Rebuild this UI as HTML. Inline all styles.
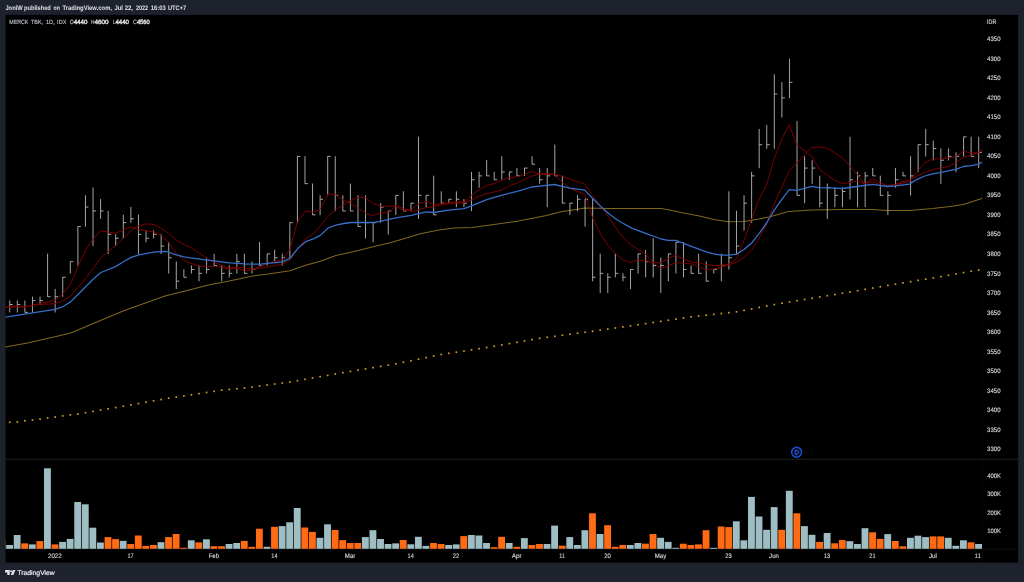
<!DOCTYPE html>
<html><head><meta charset="utf-8"><title>MERCK TBK chart</title>
<style>html,body{margin:0;padding:0;background:#1e222d;overflow:hidden}body{width:1024px;height:582px;font-family:"Liberation Sans",sans-serif}svg{display:block}text{font-family:"Liberation Sans",sans-serif;text-rendering:geometricPrecision}</style>
</head><body>
<svg width="1024" height="582" viewBox="0 0 1024 582">
<rect x="0" y="0" width="1024" height="582" fill="#1e222d"/>
<rect x="4.9" y="14.200000000000001" width="1013.9000000000001" height="549.1000000000001" fill="#232733"/>
<rect x="5.5" y="14.8" width="1012.7" height="547.9000000000001" fill="#000000"/>
<rect x="5.5" y="458.8" width="1012.7" height="1" fill="#1c1f28"/>
<rect x="5.5" y="548.7" width="1012.7" height="0.8" fill="#12141a"/>
<rect x="981.7" y="14.8" width="1" height="547.9000000000001" fill="#0a0b0d"/>
<defs><filter id="tb" x="-5%" y="-50%" width="110%" height="200%"><feGaussianBlur stdDeviation="1.8"/></filter></defs>
<defs><clipPath id="cp"><rect x="5.5" y="14.8" width="976.7" height="534.3000000000001"/></clipPath></defs>
<g clip-path="url(#cp)">
<rect x="5.5" y="541.30" width="0.5" height="7.5" fill="#ff6a14"/>
<rect x="6.15" y="545.00" width="6.85" height="3.80" fill="#9fbec3"/>
<rect x="13.72" y="535.00" width="6.85" height="13.80" fill="#9fbec3"/>
<rect x="21.29" y="543.40" width="6.85" height="5.40" fill="#ff6a14"/>
<rect x="28.86" y="544.40" width="6.85" height="4.40" fill="#9fbec3"/>
<rect x="36.43" y="541.10" width="6.85" height="7.70" fill="#ff6a14"/>
<rect x="44.00" y="468.30" width="6.85" height="80.50" fill="#9fbec3"/>
<rect x="51.57" y="544.40" width="6.85" height="4.40" fill="#ff6a14"/>
<rect x="59.14" y="541.90" width="6.85" height="6.90" fill="#9fbec3"/>
<rect x="66.71" y="538.90" width="6.85" height="9.90" fill="#9fbec3"/>
<rect x="74.28" y="502.00" width="6.85" height="46.80" fill="#9fbec3"/>
<rect x="81.85" y="504.30" width="6.85" height="44.50" fill="#9fbec3"/>
<rect x="89.42" y="527.70" width="6.85" height="21.10" fill="#9fbec3"/>
<rect x="96.99" y="542.50" width="6.85" height="6.30" fill="#9fbec3"/>
<rect x="104.56" y="537.10" width="6.85" height="11.70" fill="#ff6a14"/>
<rect x="112.13" y="539.10" width="6.85" height="9.70" fill="#ff6a14"/>
<rect x="119.70" y="540.90" width="6.85" height="7.90" fill="#9fbec3"/>
<rect x="127.27" y="544.00" width="6.85" height="4.80" fill="#ff6a14"/>
<rect x="134.84" y="535.50" width="6.85" height="13.30" fill="#ff6a14"/>
<rect x="142.41" y="545.90" width="6.85" height="2.90" fill="#ff6a14"/>
<rect x="149.98" y="545.00" width="6.85" height="3.80" fill="#ff6a14"/>
<rect x="157.55" y="542.20" width="6.85" height="6.60" fill="#9fbec3"/>
<rect x="165.12" y="537.10" width="6.85" height="11.70" fill="#ff6a14"/>
<rect x="172.69" y="534.00" width="6.85" height="14.80" fill="#ff6a14"/>
<rect x="180.26" y="547.80" width="6.85" height="1.00" fill="#ff6a14"/>
<rect x="187.83" y="540.30" width="6.85" height="8.50" fill="#9fbec3"/>
<rect x="195.40" y="542.40" width="6.85" height="6.40" fill="#ff6a14"/>
<rect x="202.97" y="539.30" width="6.85" height="9.50" fill="#9fbec3"/>
<rect x="210.54" y="546.20" width="6.85" height="2.60" fill="#ff6a14"/>
<rect x="218.11" y="546.20" width="6.85" height="2.60" fill="#ff6a14"/>
<rect x="225.68" y="544.00" width="6.85" height="4.80" fill="#9fbec3"/>
<rect x="233.25" y="543.00" width="6.85" height="5.80" fill="#9fbec3"/>
<rect x="240.82" y="540.90" width="6.85" height="7.90" fill="#ff6a14"/>
<rect x="248.39" y="546.80" width="6.85" height="2.00" fill="#ff6a14"/>
<rect x="255.96" y="528.70" width="6.85" height="20.10" fill="#ff6a14"/>
<rect x="263.53" y="546.80" width="6.85" height="2.00" fill="#9fbec3"/>
<rect x="271.10" y="526.80" width="6.85" height="22.00" fill="#ff6a14"/>
<rect x="278.67" y="526.10" width="6.85" height="22.70" fill="#9fbec3"/>
<rect x="286.24" y="522.30" width="6.85" height="26.50" fill="#9fbec3"/>
<rect x="293.81" y="508.00" width="6.85" height="40.80" fill="#9fbec3"/>
<rect x="301.38" y="527.50" width="6.85" height="21.30" fill="#ff6a14"/>
<rect x="308.95" y="531.90" width="6.85" height="16.90" fill="#ff6a14"/>
<rect x="316.52" y="537.80" width="6.85" height="11.00" fill="#9fbec3"/>
<rect x="324.09" y="524.30" width="6.85" height="24.50" fill="#9fbec3"/>
<rect x="331.66" y="529.90" width="6.85" height="18.90" fill="#ff6a14"/>
<rect x="339.23" y="540.10" width="6.85" height="8.70" fill="#ff6a14"/>
<rect x="346.80" y="543.00" width="6.85" height="5.80" fill="#ff6a14"/>
<rect x="354.37" y="543.00" width="6.85" height="5.80" fill="#ff6a14"/>
<rect x="361.94" y="537.10" width="6.85" height="11.70" fill="#9fbec3"/>
<rect x="369.51" y="530.20" width="6.85" height="18.60" fill="#9fbec3"/>
<rect x="377.08" y="539.00" width="6.85" height="9.80" fill="#9fbec3"/>
<rect x="384.65" y="544.00" width="6.85" height="4.80" fill="#9fbec3"/>
<rect x="392.22" y="543.40" width="6.85" height="5.40" fill="#9fbec3"/>
<rect x="399.79" y="540.00" width="6.85" height="8.80" fill="#ff6a14"/>
<rect x="407.36" y="544.30" width="6.85" height="4.50" fill="#9fbec3"/>
<rect x="414.93" y="536.80" width="6.85" height="12.00" fill="#9fbec3"/>
<rect x="422.50" y="545.90" width="6.85" height="2.90" fill="#9fbec3"/>
<rect x="430.07" y="543.00" width="6.85" height="5.80" fill="#ff6a14"/>
<rect x="437.64" y="544.00" width="6.85" height="4.80" fill="#ff6a14"/>
<rect x="445.21" y="545.00" width="6.85" height="3.80" fill="#9fbec3"/>
<rect x="452.78" y="544.40" width="6.85" height="4.40" fill="#9fbec3"/>
<rect x="460.35" y="536.10" width="6.85" height="12.70" fill="#ff6a14"/>
<rect x="467.92" y="535.00" width="6.85" height="13.80" fill="#9fbec3"/>
<rect x="475.49" y="535.50" width="6.85" height="13.30" fill="#9fbec3"/>
<rect x="483.06" y="543.00" width="6.85" height="5.80" fill="#9fbec3"/>
<rect x="490.63" y="547.20" width="6.85" height="1.60" fill="#ff6a14"/>
<rect x="498.20" y="536.80" width="6.85" height="12.00" fill="#ff6a14"/>
<rect x="505.77" y="543.00" width="6.85" height="5.80" fill="#9fbec3"/>
<rect x="513.34" y="546.80" width="6.85" height="2.00" fill="#ff6a14"/>
<rect x="520.91" y="538.10" width="6.85" height="10.70" fill="#9fbec3"/>
<rect x="528.48" y="545.00" width="6.85" height="3.80" fill="#ff6a14"/>
<rect x="536.05" y="544.00" width="6.85" height="4.80" fill="#ff6a14"/>
<rect x="543.62" y="544.00" width="6.85" height="4.80" fill="#9fbec3"/>
<rect x="551.19" y="525.60" width="6.85" height="23.20" fill="#9fbec3"/>
<rect x="558.76" y="545.70" width="6.85" height="3.10" fill="#ff6a14"/>
<rect x="566.33" y="537.10" width="6.85" height="11.70" fill="#9fbec3"/>
<rect x="573.90" y="545.00" width="6.85" height="3.80" fill="#9fbec3"/>
<rect x="581.47" y="530.20" width="6.85" height="18.60" fill="#9fbec3"/>
<rect x="589.04" y="513.30" width="6.85" height="35.50" fill="#ff6a14"/>
<rect x="596.61" y="534.00" width="6.85" height="14.80" fill="#9fbec3"/>
<rect x="604.18" y="525.20" width="6.85" height="23.60" fill="#ff6a14"/>
<rect x="611.75" y="546.80" width="6.85" height="2.00" fill="#ff6a14"/>
<rect x="619.32" y="545.00" width="6.85" height="3.80" fill="#ff6a14"/>
<rect x="626.89" y="545.00" width="6.85" height="3.80" fill="#9fbec3"/>
<rect x="634.46" y="543.00" width="6.85" height="5.80" fill="#9fbec3"/>
<rect x="642.03" y="543.70" width="6.85" height="5.10" fill="#ff6a14"/>
<rect x="649.60" y="534.00" width="6.85" height="14.80" fill="#ff6a14"/>
<rect x="657.17" y="537.80" width="6.85" height="11.00" fill="#9fbec3"/>
<rect x="664.74" y="541.90" width="6.85" height="6.90" fill="#9fbec3"/>
<rect x="672.31" y="547.80" width="6.85" height="1.00" fill="#9fbec3"/>
<rect x="679.88" y="543.70" width="6.85" height="5.10" fill="#ff6a14"/>
<rect x="687.45" y="545.00" width="6.85" height="3.80" fill="#ff6a14"/>
<rect x="695.02" y="544.40" width="6.85" height="4.40" fill="#ff6a14"/>
<rect x="702.59" y="530.20" width="6.85" height="18.60" fill="#ff6a14"/>
<rect x="710.16" y="547.80" width="6.85" height="1.00" fill="#9fbec3"/>
<rect x="717.73" y="526.50" width="6.85" height="22.30" fill="#ff6a14"/>
<rect x="725.30" y="527.10" width="6.85" height="21.70" fill="#ff6a14"/>
<rect x="732.87" y="521.30" width="6.85" height="27.50" fill="#9fbec3"/>
<rect x="740.44" y="540.30" width="6.85" height="8.50" fill="#9fbec3"/>
<rect x="748.01" y="496.90" width="6.85" height="51.90" fill="#9fbec3"/>
<rect x="755.58" y="516.50" width="6.85" height="32.30" fill="#9fbec3"/>
<rect x="763.15" y="529.80" width="6.85" height="19.00" fill="#9fbec3"/>
<rect x="770.72" y="507.10" width="6.85" height="41.70" fill="#9fbec3"/>
<rect x="778.29" y="529.80" width="6.85" height="19.00" fill="#ff6a14"/>
<rect x="785.86" y="490.80" width="6.85" height="58.00" fill="#9fbec3"/>
<rect x="793.43" y="513.30" width="6.85" height="35.50" fill="#ff6a14"/>
<rect x="801.00" y="526.10" width="6.85" height="22.70" fill="#9fbec3"/>
<rect x="808.57" y="534.80" width="6.85" height="14.00" fill="#9fbec3"/>
<rect x="816.14" y="541.90" width="6.85" height="6.90" fill="#ff6a14"/>
<rect x="823.71" y="533.00" width="6.85" height="15.80" fill="#9fbec3"/>
<rect x="831.28" y="543.30" width="6.85" height="5.50" fill="#ff6a14"/>
<rect x="838.85" y="540.10" width="6.85" height="8.70" fill="#ff6a14"/>
<rect x="846.42" y="541.20" width="6.85" height="7.60" fill="#9fbec3"/>
<rect x="853.99" y="544.00" width="6.85" height="4.80" fill="#9fbec3"/>
<rect x="861.56" y="528.20" width="6.85" height="20.60" fill="#9fbec3"/>
<rect x="869.13" y="532.30" width="6.85" height="16.50" fill="#ff6a14"/>
<rect x="876.70" y="538.90" width="6.85" height="9.90" fill="#ff6a14"/>
<rect x="884.27" y="534.10" width="6.85" height="14.70" fill="#9fbec3"/>
<rect x="891.84" y="541.00" width="6.85" height="7.80" fill="#ff6a14"/>
<rect x="899.41" y="546.30" width="6.85" height="2.50" fill="#ff6a14"/>
<rect x="906.98" y="537.80" width="6.85" height="11.00" fill="#9fbec3"/>
<rect x="914.55" y="535.70" width="6.85" height="13.10" fill="#9fbec3"/>
<rect x="922.12" y="537.10" width="6.85" height="11.70" fill="#9fbec3"/>
<rect x="929.69" y="536.40" width="6.85" height="12.40" fill="#ff6a14"/>
<rect x="937.26" y="536.40" width="6.85" height="12.40" fill="#ff6a14"/>
<rect x="944.83" y="537.80" width="6.85" height="11.00" fill="#9fbec3"/>
<rect x="952.40" y="545.80" width="6.85" height="3.00" fill="#9fbec3"/>
<rect x="959.97" y="540.30" width="6.85" height="8.50" fill="#9fbec3"/>
<rect x="967.54" y="542.30" width="6.85" height="6.50" fill="#ff6a14"/>
<rect x="975.11" y="544.00" width="6.85" height="4.80" fill="#9fbec3"/>
<rect x="8.90" y="421.45" width="1.7" height="1.7" fill="#cf9d1f"/>
<rect x="16.47" y="421.05" width="1.7" height="1.7" fill="#cf9d1f"/>
<rect x="24.04" y="419.95" width="1.7" height="1.7" fill="#cf9d1f"/>
<rect x="31.61" y="419.25" width="1.7" height="1.7" fill="#cf9d1f"/>
<rect x="39.18" y="418.25" width="1.7" height="1.7" fill="#cf9d1f"/>
<rect x="46.75" y="417.15" width="1.7" height="1.7" fill="#cf9d1f"/>
<rect x="54.32" y="416.15" width="1.7" height="1.7" fill="#cf9d1f"/>
<rect x="61.89" y="415.04" width="1.7" height="1.7" fill="#cf9d1f"/>
<rect x="69.46" y="414.05" width="1.7" height="1.7" fill="#cf9d1f"/>
<rect x="77.03" y="413.15" width="1.7" height="1.7" fill="#cf9d1f"/>
<rect x="84.60" y="411.87" width="1.7" height="1.7" fill="#cf9d1f"/>
<rect x="92.17" y="410.59" width="1.7" height="1.7" fill="#cf9d1f"/>
<rect x="99.74" y="409.31" width="1.7" height="1.7" fill="#cf9d1f"/>
<rect x="107.31" y="408.02" width="1.7" height="1.7" fill="#cf9d1f"/>
<rect x="114.88" y="406.70" width="1.7" height="1.7" fill="#cf9d1f"/>
<rect x="122.45" y="405.36" width="1.7" height="1.7" fill="#cf9d1f"/>
<rect x="130.02" y="404.03" width="1.7" height="1.7" fill="#cf9d1f"/>
<rect x="137.59" y="402.70" width="1.7" height="1.7" fill="#cf9d1f"/>
<rect x="145.16" y="401.37" width="1.7" height="1.7" fill="#cf9d1f"/>
<rect x="152.73" y="400.03" width="1.7" height="1.7" fill="#cf9d1f"/>
<rect x="160.30" y="398.70" width="1.7" height="1.7" fill="#cf9d1f"/>
<rect x="167.87" y="397.39" width="1.7" height="1.7" fill="#cf9d1f"/>
<rect x="175.44" y="396.24" width="1.7" height="1.7" fill="#cf9d1f"/>
<rect x="183.01" y="395.08" width="1.7" height="1.7" fill="#cf9d1f"/>
<rect x="190.58" y="393.92" width="1.7" height="1.7" fill="#cf9d1f"/>
<rect x="198.15" y="392.76" width="1.7" height="1.7" fill="#cf9d1f"/>
<rect x="205.72" y="391.60" width="1.7" height="1.7" fill="#cf9d1f"/>
<rect x="213.29" y="390.45" width="1.7" height="1.7" fill="#cf9d1f"/>
<rect x="220.86" y="389.31" width="1.7" height="1.7" fill="#cf9d1f"/>
<rect x="228.43" y="388.59" width="1.7" height="1.7" fill="#cf9d1f"/>
<rect x="236.00" y="387.88" width="1.7" height="1.7" fill="#cf9d1f"/>
<rect x="243.57" y="387.16" width="1.7" height="1.7" fill="#cf9d1f"/>
<rect x="251.14" y="386.16" width="1.7" height="1.7" fill="#cf9d1f"/>
<rect x="258.71" y="385.16" width="1.7" height="1.7" fill="#cf9d1f"/>
<rect x="266.28" y="384.17" width="1.7" height="1.7" fill="#cf9d1f"/>
<rect x="273.85" y="383.17" width="1.7" height="1.7" fill="#cf9d1f"/>
<rect x="281.42" y="382.17" width="1.7" height="1.7" fill="#cf9d1f"/>
<rect x="288.99" y="381.17" width="1.7" height="1.7" fill="#cf9d1f"/>
<rect x="296.56" y="379.84" width="1.7" height="1.7" fill="#cf9d1f"/>
<rect x="304.13" y="378.51" width="1.7" height="1.7" fill="#cf9d1f"/>
<rect x="311.70" y="377.18" width="1.7" height="1.7" fill="#cf9d1f"/>
<rect x="319.27" y="375.84" width="1.7" height="1.7" fill="#cf9d1f"/>
<rect x="326.84" y="374.51" width="1.7" height="1.7" fill="#cf9d1f"/>
<rect x="334.41" y="373.18" width="1.7" height="1.7" fill="#cf9d1f"/>
<rect x="341.98" y="371.84" width="1.7" height="1.7" fill="#cf9d1f"/>
<rect x="349.55" y="370.58" width="1.7" height="1.7" fill="#cf9d1f"/>
<rect x="357.12" y="369.32" width="1.7" height="1.7" fill="#cf9d1f"/>
<rect x="364.69" y="368.06" width="1.7" height="1.7" fill="#cf9d1f"/>
<rect x="372.26" y="366.80" width="1.7" height="1.7" fill="#cf9d1f"/>
<rect x="379.83" y="365.54" width="1.7" height="1.7" fill="#cf9d1f"/>
<rect x="387.40" y="364.27" width="1.7" height="1.7" fill="#cf9d1f"/>
<rect x="394.97" y="362.98" width="1.7" height="1.7" fill="#cf9d1f"/>
<rect x="402.54" y="361.43" width="1.7" height="1.7" fill="#cf9d1f"/>
<rect x="410.11" y="359.87" width="1.7" height="1.7" fill="#cf9d1f"/>
<rect x="417.68" y="358.32" width="1.7" height="1.7" fill="#cf9d1f"/>
<rect x="425.25" y="356.76" width="1.7" height="1.7" fill="#cf9d1f"/>
<rect x="432.82" y="355.21" width="1.7" height="1.7" fill="#cf9d1f"/>
<rect x="440.39" y="353.65" width="1.7" height="1.7" fill="#cf9d1f"/>
<rect x="447.96" y="352.49" width="1.7" height="1.7" fill="#cf9d1f"/>
<rect x="455.53" y="351.32" width="1.7" height="1.7" fill="#cf9d1f"/>
<rect x="463.10" y="350.16" width="1.7" height="1.7" fill="#cf9d1f"/>
<rect x="470.67" y="348.99" width="1.7" height="1.7" fill="#cf9d1f"/>
<rect x="478.24" y="347.83" width="1.7" height="1.7" fill="#cf9d1f"/>
<rect x="485.81" y="346.66" width="1.7" height="1.7" fill="#cf9d1f"/>
<rect x="493.38" y="345.41" width="1.7" height="1.7" fill="#cf9d1f"/>
<rect x="500.95" y="344.08" width="1.7" height="1.7" fill="#cf9d1f"/>
<rect x="508.52" y="342.76" width="1.7" height="1.7" fill="#cf9d1f"/>
<rect x="516.09" y="341.44" width="1.7" height="1.7" fill="#cf9d1f"/>
<rect x="523.66" y="340.11" width="1.7" height="1.7" fill="#cf9d1f"/>
<rect x="531.23" y="338.79" width="1.7" height="1.7" fill="#cf9d1f"/>
<rect x="538.80" y="337.46" width="1.7" height="1.7" fill="#cf9d1f"/>
<rect x="546.37" y="336.44" width="1.7" height="1.7" fill="#cf9d1f"/>
<rect x="553.94" y="335.43" width="1.7" height="1.7" fill="#cf9d1f"/>
<rect x="561.51" y="334.42" width="1.7" height="1.7" fill="#cf9d1f"/>
<rect x="569.08" y="333.41" width="1.7" height="1.7" fill="#cf9d1f"/>
<rect x="576.65" y="332.40" width="1.7" height="1.7" fill="#cf9d1f"/>
<rect x="584.22" y="331.39" width="1.7" height="1.7" fill="#cf9d1f"/>
<rect x="591.79" y="330.38" width="1.7" height="1.7" fill="#cf9d1f"/>
<rect x="599.36" y="329.30" width="1.7" height="1.7" fill="#cf9d1f"/>
<rect x="606.93" y="328.22" width="1.7" height="1.7" fill="#cf9d1f"/>
<rect x="614.50" y="327.14" width="1.7" height="1.7" fill="#cf9d1f"/>
<rect x="622.07" y="326.05" width="1.7" height="1.7" fill="#cf9d1f"/>
<rect x="629.64" y="324.97" width="1.7" height="1.7" fill="#cf9d1f"/>
<rect x="637.21" y="323.89" width="1.7" height="1.7" fill="#cf9d1f"/>
<rect x="644.78" y="322.81" width="1.7" height="1.7" fill="#cf9d1f"/>
<rect x="652.35" y="321.67" width="1.7" height="1.7" fill="#cf9d1f"/>
<rect x="659.92" y="320.53" width="1.7" height="1.7" fill="#cf9d1f"/>
<rect x="667.49" y="319.40" width="1.7" height="1.7" fill="#cf9d1f"/>
<rect x="675.06" y="318.26" width="1.7" height="1.7" fill="#cf9d1f"/>
<rect x="682.63" y="317.13" width="1.7" height="1.7" fill="#cf9d1f"/>
<rect x="690.20" y="316.03" width="1.7" height="1.7" fill="#cf9d1f"/>
<rect x="697.77" y="315.19" width="1.7" height="1.7" fill="#cf9d1f"/>
<rect x="705.34" y="314.36" width="1.7" height="1.7" fill="#cf9d1f"/>
<rect x="712.91" y="313.52" width="1.7" height="1.7" fill="#cf9d1f"/>
<rect x="720.48" y="312.68" width="1.7" height="1.7" fill="#cf9d1f"/>
<rect x="728.05" y="311.84" width="1.7" height="1.7" fill="#cf9d1f"/>
<rect x="735.62" y="310.96" width="1.7" height="1.7" fill="#cf9d1f"/>
<rect x="743.19" y="309.51" width="1.7" height="1.7" fill="#cf9d1f"/>
<rect x="750.76" y="308.07" width="1.7" height="1.7" fill="#cf9d1f"/>
<rect x="758.33" y="306.62" width="1.7" height="1.7" fill="#cf9d1f"/>
<rect x="765.90" y="305.17" width="1.7" height="1.7" fill="#cf9d1f"/>
<rect x="773.47" y="303.72" width="1.7" height="1.7" fill="#cf9d1f"/>
<rect x="781.04" y="302.30" width="1.7" height="1.7" fill="#cf9d1f"/>
<rect x="788.61" y="301.06" width="1.7" height="1.7" fill="#cf9d1f"/>
<rect x="796.18" y="299.83" width="1.7" height="1.7" fill="#cf9d1f"/>
<rect x="803.75" y="298.60" width="1.7" height="1.7" fill="#cf9d1f"/>
<rect x="811.32" y="297.37" width="1.7" height="1.7" fill="#cf9d1f"/>
<rect x="818.89" y="296.13" width="1.7" height="1.7" fill="#cf9d1f"/>
<rect x="826.46" y="294.90" width="1.7" height="1.7" fill="#cf9d1f"/>
<rect x="834.03" y="293.67" width="1.7" height="1.7" fill="#cf9d1f"/>
<rect x="841.60" y="292.37" width="1.7" height="1.7" fill="#cf9d1f"/>
<rect x="849.17" y="291.08" width="1.7" height="1.7" fill="#cf9d1f"/>
<rect x="856.74" y="289.78" width="1.7" height="1.7" fill="#cf9d1f"/>
<rect x="864.31" y="288.48" width="1.7" height="1.7" fill="#cf9d1f"/>
<rect x="871.88" y="287.18" width="1.7" height="1.7" fill="#cf9d1f"/>
<rect x="879.45" y="285.88" width="1.7" height="1.7" fill="#cf9d1f"/>
<rect x="887.02" y="284.59" width="1.7" height="1.7" fill="#cf9d1f"/>
<rect x="894.59" y="283.33" width="1.7" height="1.7" fill="#cf9d1f"/>
<rect x="902.16" y="282.06" width="1.7" height="1.7" fill="#cf9d1f"/>
<rect x="909.73" y="280.80" width="1.7" height="1.7" fill="#cf9d1f"/>
<rect x="917.30" y="279.54" width="1.7" height="1.7" fill="#cf9d1f"/>
<rect x="924.87" y="278.28" width="1.7" height="1.7" fill="#cf9d1f"/>
<rect x="932.44" y="277.02" width="1.7" height="1.7" fill="#cf9d1f"/>
<rect x="940.01" y="275.75" width="1.7" height="1.7" fill="#cf9d1f"/>
<rect x="947.58" y="274.41" width="1.7" height="1.7" fill="#cf9d1f"/>
<rect x="955.15" y="273.08" width="1.7" height="1.7" fill="#cf9d1f"/>
<rect x="962.72" y="271.74" width="1.7" height="1.7" fill="#cf9d1f"/>
<rect x="970.29" y="270.40" width="1.7" height="1.7" fill="#cf9d1f"/>
<rect x="977.86" y="269.15" width="1.7" height="1.7" fill="#cf9d1f"/>
<polyline points="5.5,347.0 27.5,342.9 55.0,336.8 71.5,332.7 96.2,322.2 123.7,310.7 165.0,296.1 190.0,289.7 209.6,284.8 229.2,280.9 252.7,276.0 268.4,274.0 289.9,270.7 305.6,265.2 320.3,261.3 335.9,255.4 358.5,250.5 374.1,246.6 390.0,242.7 399.6,239.9 419.2,234.0 438.8,230.1 454.4,228.1 472.1,227.6 486.8,225.6 517.1,221.3 546.5,215.4 562.2,211.5 570.0,210.4 584.7,208.1 609.2,208.5 638.6,208.5 661.1,208.5 667.9,209.7 683.6,213.0 699.3,215.9 715.0,219.8 728.7,221.8 744.3,221.4 759.0,218.9 769.9,216.7 788.6,211.6 811.7,210.1 842.5,209.4 872.2,209.4 887.6,210.5 909.5,210.5 932.6,208.5 948.0,206.8 963.4,204.6 971.1,201.9 981.7,198.4" fill="none" stroke="#80681f" stroke-width="1.05" stroke-linejoin="round" stroke-linecap="round" opacity="1"/>
<path d="M9.75 300.49V312.49M9.75 304.54h3.0M17.32 300.49V312.49M17.32 304.54h3.0M24.89 300.49V312.49M24.89 312.34h3.0M32.46 296.59V312.49M32.46 300.64h3.0M40.03 296.59V304.69M40.03 300.64h3.0M47.60 253.70V296.89M47.60 296.74h3.0M55.17 288.79V312.49M55.17 296.74h3.0M62.74 277.09V296.89M62.74 277.24h3.0M70.31 261.50V273.50M70.31 261.65h3.0M77.88 226.41V265.70M77.88 226.56h3.0M85.45 195.22V226.71M85.45 207.06h3.0M93.02 187.42V246.20M93.02 210.96h3.0M100.59 199.11V218.91M100.59 210.96h3.0M108.16 210.81V254.00M108.16 234.35h3.0M115.73 234.20V246.20M115.73 238.25h3.0M123.30 214.71V238.40M123.30 222.66h3.0M130.87 206.91V222.81M130.87 218.76h3.0M138.44 214.71V254.00M138.44 234.35h3.0M146.01 230.31V242.30M146.01 238.25h3.0M153.58 230.31V238.40M153.58 234.35h3.0M161.15 234.20V254.00M161.15 246.05h3.0M168.72 242.00V273.50M168.72 257.75h3.0M176.29 261.50V289.09M176.29 281.14h3.0M183.86 269.30V277.39M183.86 277.24h3.0M191.43 265.40V273.50M191.43 269.45h3.0M199.00 265.40V281.29M199.00 273.35h3.0M206.57 257.60V273.50M206.57 269.45h3.0M214.14 253.70V265.70M214.14 265.55h3.0M221.71 265.40V281.29M221.71 273.35h3.0M229.28 265.40V277.39M229.28 273.35h3.0M236.85 253.70V273.50M236.85 261.65h3.0M244.42 253.70V273.50M244.42 273.35h3.0M251.99 261.50V273.50M251.99 269.45h3.0M259.56 242.00V265.70M259.56 265.55h3.0M267.13 253.70V265.70M267.13 253.85h3.0M274.70 249.80V261.80M274.70 257.75h3.0M282.27 253.70V265.70M282.27 257.75h3.0M289.84 222.51V257.90M289.84 222.66h3.0M297.41 156.22V222.81M297.41 156.38h3.0M304.98 156.22V183.82M304.98 183.67h3.0M312.55 183.52V215.01M312.55 214.86h3.0M320.12 195.22V215.01M320.12 199.26h3.0M327.69 156.22V195.52M327.69 156.38h3.0M335.26 156.22V211.11M335.26 195.37h3.0M342.83 195.22V211.11M342.83 210.96h3.0M350.40 183.52V211.11M350.40 210.96h3.0M357.97 195.22V226.71M357.97 226.56h3.0M365.54 195.22V238.40M365.54 222.66h3.0M373.11 222.51V242.30M373.11 222.66h3.0M380.68 203.01V222.81M380.68 207.06h3.0M388.25 210.81V234.50M388.25 210.96h3.0M395.82 195.22V215.01M395.82 195.37h3.0M403.39 191.32V211.11M403.39 210.96h3.0M410.96 203.01V211.11M410.96 203.16h3.0M418.53 136.73V218.91M418.53 195.37h3.0M426.10 195.22V207.21M426.10 195.37h3.0M433.67 175.72V215.01M433.67 214.86h3.0M441.24 191.32V203.31M441.24 203.16h3.0M448.81 199.11V203.31M448.81 199.26h3.0M456.38 191.32V207.21M456.38 199.26h3.0M463.95 199.11V207.21M463.95 203.16h3.0M471.52 171.82V211.11M471.52 179.77h3.0M479.09 171.82V187.72M479.09 175.87h3.0M486.66 160.12V176.02M486.66 175.87h3.0M494.23 171.82V179.92M494.23 179.77h3.0M501.80 156.22V179.92M501.80 171.97h3.0M509.37 171.82V179.92M509.37 171.97h3.0M516.94 167.92V176.02M516.94 175.87h3.0M524.51 167.92V176.02M524.51 168.07h3.0M532.08 156.22V164.32M532.08 164.17h3.0M539.65 167.92V183.82M539.65 179.77h3.0M547.22 167.92V207.21M547.22 175.87h3.0M554.79 144.53V176.02M554.79 175.87h3.0M562.36 175.72V203.31M562.36 203.16h3.0M569.93 203.01V215.01M569.93 203.16h3.0M577.50 195.22V211.11M577.50 199.26h3.0M585.07 199.11V226.71M585.07 199.26h3.0M592.64 199.11V281.29M592.64 277.24h3.0M600.21 253.70V292.99M600.21 273.35h3.0M607.78 273.20V292.99M607.78 277.24h3.0M615.35 253.70V277.39M615.35 273.35h3.0M622.92 273.20V281.29M622.92 277.24h3.0M630.49 269.30V289.09M630.49 269.45h3.0M638.06 253.70V273.50M638.06 253.85h3.0M645.63 249.80V277.39M645.63 261.65h3.0M653.20 238.10V277.39M653.20 265.55h3.0M660.77 257.60V292.99M660.77 265.55h3.0M668.34 253.70V281.29M668.34 253.85h3.0M675.91 242.00V273.50M675.91 242.15h3.0M683.48 242.00V277.39M683.48 269.45h3.0M691.05 265.40V273.50M691.05 273.35h3.0M698.62 253.70V273.50M698.62 273.35h3.0M706.19 261.50V281.29M706.19 281.14h3.0M713.76 269.30V273.50M713.76 269.45h3.0M721.33 253.70V281.29M721.33 265.55h3.0M728.90 191.32V269.60M728.90 257.75h3.0M736.47 210.81V254.00M736.47 246.05h3.0M744.04 195.22V230.61M744.04 203.16h3.0M751.61 171.82V222.81M751.61 175.87h3.0M759.18 128.93V168.22M759.18 144.68h3.0M766.75 125.03V148.73M766.75 144.68h3.0M774.32 74.35V148.73M774.32 93.99h3.0M781.89 82.14V117.53M781.89 97.89h3.0M789.46 58.75V98.04M789.46 82.29h3.0M797.03 121.13V195.52M797.03 195.37h3.0M804.60 156.22V203.31M804.60 168.07h3.0M812.17 160.12V183.82M812.17 168.07h3.0M819.74 175.72V207.21M819.74 203.16h3.0M827.31 183.52V218.91M827.31 187.57h3.0M834.88 187.42V207.21M834.88 195.37h3.0M842.45 187.42V207.21M842.45 191.47h3.0M850.02 136.73V199.41M850.02 179.77h3.0M857.59 171.82V207.21M857.59 175.87h3.0M865.16 171.82V207.21M865.16 175.87h3.0M872.73 167.92V176.02M872.73 175.87h3.0M880.30 175.72V195.52M880.30 195.37h3.0M887.87 191.32V215.01M887.87 195.37h3.0M895.44 167.92V187.72M895.44 179.77h3.0M903.01 171.82V176.02M903.01 175.87h3.0M910.58 156.22V195.52M910.58 175.87h3.0M918.15 144.53V172.12M918.15 144.68h3.0M925.72 128.93V156.53M925.72 144.68h3.0M933.29 140.63V160.42M933.29 148.58h3.0M940.86 148.43V183.82M940.86 160.27h3.0M948.43 148.43V160.42M948.43 156.38h3.0M956.00 152.33V172.12M956.00 156.38h3.0M963.57 136.73V156.53M963.57 136.88h3.0M971.14 136.73V156.53M971.14 156.38h3.0M978.71 136.73V168.22M978.71 152.48h3.0" fill="none" stroke="#b4b4b4" stroke-width="0.92"/>
<polyline points="5.9,307.3 24.5,306.8 40.2,304.4 54.8,303.8 62.7,300.9 70.5,296.0 78.4,287.2 86.2,277.4 93.0,268.6 100.9,257.8 115.6,245.4 123.4,238.2 130.3,231.3 137.1,226.4 145.9,223.9 153.8,224.5 160.6,228.0 168.5,233.3 176.3,240.2 184.1,244.7 190.0,247.2 199.8,253.5 206.7,258.4 214.5,262.3 221.3,265.2 229.2,267.8 237.0,267.2 244.8,268.1 252.7,269.1 260.5,268.1 268.4,266.8 282.1,264.2 289.9,260.3 297.3,249.5 305.6,238.8 313.4,233.9 320.3,226.0 328.1,216.2 335.9,209.4 343.8,204.5 350.6,200.6 358.5,197.2 365.3,197.6 373.1,203.5 381.0,206.4 388.0,206.2 395.7,205.8 403.5,208.6 411.3,211.5 419.2,209.5 426.0,207.6 433.9,206.6 441.7,204.6 448.6,203.7 464.2,202.7 472.1,199.7 479.9,195.8 486.8,193.9 501.4,190.0 509.3,186.0 517.1,183.1 525.0,179.2 531.8,176.2 539.6,173.7 546.5,173.7 554.3,174.3 562.2,176.2 570.0,179.1 584.7,184.0 592.5,195.4 601.3,207.1 609.2,217.9 617.0,229.6 623.9,238.5 631.7,245.3 638.6,249.8 646.4,255.1 653.2,262.9 661.1,268.4 667.9,265.9 675.8,262.9 683.6,262.9 691.4,263.9 699.3,266.9 707.1,270.2 715.0,268.8 721.8,266.9 728.7,264.9 736.5,262.0 744.3,257.1 752.2,249.2 759.0,238.5 766.6,224.0 774.3,203.5 782.0,187.0 789.2,170.9 796.9,162.8 804.0,155.1 811.7,147.4 819.4,147.0 827.1,148.1 834.8,152.9 842.5,157.9 850.2,166.7 856.8,173.8 864.5,183.7 872.2,178.6 879.9,182.6 887.6,185.9 895.3,184.3 903.0,181.5 909.5,179.9 917.2,176.0 924.9,172.7 932.6,169.4 940.3,168.3 948.0,166.5 955.7,162.8 963.4,157.3 971.1,155.1 977.7,152.9 981.7,151.1" fill="none" stroke="#820202" stroke-width="0.95" stroke-linejoin="round" stroke-linecap="round" opacity="1"/>
<polyline points="5.9,307.3 16.7,305.8 24.5,307.3 40.2,303.4 54.8,300.3 62.7,294.0 70.5,284.2 78.4,265.6 86.2,249.0 93.0,239.2 100.3,230.8 115.6,233.3 130.3,227.0 137.1,229.0 145.9,230.9 153.8,231.9 160.6,234.9 168.5,242.1 176.3,253.9 184.1,260.3 190.0,263.0 199.8,266.2 214.5,266.2 229.2,269.1 237.0,268.1 244.8,271.1 252.7,269.7 260.5,266.2 268.4,263.2 275.2,261.3 282.1,259.9 289.9,249.5 297.3,222.1 305.6,210.9 313.4,212.3 320.3,209.0 328.1,193.7 335.9,194.7 343.8,200.6 350.6,203.5 358.5,208.4 366.3,213.3 373.1,215.6 381.0,212.9 387.8,212.5 395.7,206.0 403.5,210.5 411.3,209.5 419.2,203.7 426.0,201.3 433.9,204.6 441.7,203.7 448.6,202.7 456.4,201.7 464.2,201.7 472.1,194.8 479.9,189.0 486.8,185.4 494.6,183.5 501.4,180.2 509.3,177.6 517.1,176.8 525.0,174.3 531.8,171.3 539.6,174.3 546.5,174.3 554.3,174.3 562.2,182.1 570.0,188.3 584.7,194.0 592.5,217.9 601.3,235.5 608.2,245.7 616.0,254.1 622.9,260.0 630.7,262.4 637.6,260.0 646.4,261.0 653.2,262.4 661.1,262.4 667.9,259.0 675.8,255.1 683.6,259.0 691.4,262.0 699.3,262.9 707.1,264.9 715.0,265.5 721.8,265.5 728.7,263.9 736.5,259.0 744.3,239.4 752.2,217.9 759.0,199.3 766.6,184.8 774.3,158.4 782.0,138.6 789.2,124.7 796.9,145.2 811.7,156.2 819.4,169.4 834.8,180.4 842.5,183.7 850.2,182.6 856.8,180.8 864.5,183.7 872.2,181.5 879.9,184.8 887.6,187.0 895.3,184.8 903.0,183.0 909.5,181.5 917.2,171.6 924.9,162.8 932.6,158.8 940.3,158.8 948.0,157.9 955.7,156.8 963.4,151.3 971.1,152.9 977.7,152.9 981.7,149.1" fill="none" stroke="#820202" stroke-width="0.95" stroke-linejoin="round" stroke-linecap="round" opacity="1"/>
<polyline points="5.5,317.1 29.4,313.4 54.8,309.3 62.7,306.8 70.5,301.9 78.4,294.0 86.2,286.2 93.0,279.3 100.9,272.5 115.6,266.6 123.4,261.7 131.2,257.4 139.1,254.8 146.9,253.3 154.7,251.9 166.5,251.5 176.3,254.8 184.1,256.8 190.0,257.8 209.6,260.3 229.2,262.9 244.8,263.8 260.5,264.2 282.1,261.9 289.9,258.4 297.7,248.6 305.6,241.7 313.4,238.8 320.3,235.4 328.1,228.0 335.9,225.1 343.8,223.5 350.6,222.5 358.5,222.5 374.1,222.5 381.0,221.1 395.7,217.8 411.3,215.4 426.0,211.9 433.9,212.5 448.6,210.1 464.2,208.6 472.1,205.6 486.8,199.7 501.4,195.4 517.1,191.3 531.8,187.0 546.5,185.4 554.3,184.5 562.2,186.4 570.0,188.2 584.7,190.1 592.5,198.3 601.3,207.1 609.2,214.0 617.0,219.8 623.9,223.8 631.7,228.1 646.4,233.6 661.1,239.0 667.9,240.4 675.8,240.4 683.6,243.4 691.4,246.3 707.1,252.2 715.0,254.1 721.8,255.1 728.7,255.1 736.5,254.1 744.3,249.2 752.2,242.4 759.0,233.6 766.9,222.5 774.3,210.1 782.0,199.1 789.2,189.6 796.9,190.3 811.7,186.3 819.4,187.6 834.8,188.1 842.5,188.5 856.8,186.5 872.2,184.3 879.9,185.4 887.6,186.5 895.3,185.9 909.5,184.1 917.2,179.3 924.9,176.0 932.6,173.8 940.3,172.7 948.0,170.9 955.7,169.4 963.4,166.5 971.1,165.6 977.7,164.3 981.7,162.3" fill="none" stroke="#356fc8" stroke-width="1.3" stroke-linejoin="round" stroke-linecap="round" opacity="1"/>
</g>
<circle cx="796.6" cy="452.3" r="5.0" fill="#0a1024" stroke="#1d4fd6" stroke-width="1.4"/>
<path fill-rule="evenodd" fill="#2156e0" d="M794.75 450.05h1.9a2.28 2.3 0 0 1 0 4.6h-1.9zM795.85 451.0v2.7h0.8a1.3 1.35 0 0 0 0-2.7z"/>
<text filter="url(#tb)" transform="translate(987.10,451.20) scale(0.1)" font-size="65.0" fill="#cdd0d7" stroke="#cdd0d7" stroke-width="1.7" stroke-linejoin="round" textLength="134.0" lengthAdjust="spacingAndGlyphs" text-anchor="start">3300</text>
<text filter="url(#tb)" transform="translate(987.10,431.70) scale(0.1)" font-size="65.0" fill="#cdd0d7" stroke="#cdd0d7" stroke-width="1.7" stroke-linejoin="round" textLength="134.0" lengthAdjust="spacingAndGlyphs" text-anchor="start">3350</text>
<text filter="url(#tb)" transform="translate(987.10,412.21) scale(0.1)" font-size="65.0" fill="#cdd0d7" stroke="#cdd0d7" stroke-width="1.7" stroke-linejoin="round" textLength="134.0" lengthAdjust="spacingAndGlyphs" text-anchor="start">3400</text>
<text filter="url(#tb)" transform="translate(987.10,392.71) scale(0.1)" font-size="65.0" fill="#cdd0d7" stroke="#cdd0d7" stroke-width="1.7" stroke-linejoin="round" textLength="134.0" lengthAdjust="spacingAndGlyphs" text-anchor="start">3450</text>
<text filter="url(#tb)" transform="translate(987.10,373.22) scale(0.1)" font-size="65.0" fill="#cdd0d7" stroke="#cdd0d7" stroke-width="1.7" stroke-linejoin="round" textLength="134.0" lengthAdjust="spacingAndGlyphs" text-anchor="start">3500</text>
<text filter="url(#tb)" transform="translate(987.10,353.72) scale(0.1)" font-size="65.0" fill="#cdd0d7" stroke="#cdd0d7" stroke-width="1.7" stroke-linejoin="round" textLength="134.0" lengthAdjust="spacingAndGlyphs" text-anchor="start">3550</text>
<text filter="url(#tb)" transform="translate(987.10,334.23) scale(0.1)" font-size="65.0" fill="#cdd0d7" stroke="#cdd0d7" stroke-width="1.7" stroke-linejoin="round" textLength="134.0" lengthAdjust="spacingAndGlyphs" text-anchor="start">3600</text>
<text filter="url(#tb)" transform="translate(987.10,314.74) scale(0.1)" font-size="65.0" fill="#cdd0d7" stroke="#cdd0d7" stroke-width="1.7" stroke-linejoin="round" textLength="134.0" lengthAdjust="spacingAndGlyphs" text-anchor="start">3650</text>
<text filter="url(#tb)" transform="translate(987.10,295.24) scale(0.1)" font-size="65.0" fill="#cdd0d7" stroke="#cdd0d7" stroke-width="1.7" stroke-linejoin="round" textLength="134.0" lengthAdjust="spacingAndGlyphs" text-anchor="start">3700</text>
<text filter="url(#tb)" transform="translate(987.10,275.75) scale(0.1)" font-size="65.0" fill="#cdd0d7" stroke="#cdd0d7" stroke-width="1.7" stroke-linejoin="round" textLength="134.0" lengthAdjust="spacingAndGlyphs" text-anchor="start">3750</text>
<text filter="url(#tb)" transform="translate(987.10,256.25) scale(0.1)" font-size="65.0" fill="#cdd0d7" stroke="#cdd0d7" stroke-width="1.7" stroke-linejoin="round" textLength="134.0" lengthAdjust="spacingAndGlyphs" text-anchor="start">3800</text>
<text filter="url(#tb)" transform="translate(987.10,236.41) scale(0.1)" font-size="65.0" fill="#cdd0d7" stroke="#cdd0d7" stroke-width="1.7" stroke-linejoin="round" textLength="134.0" lengthAdjust="spacingAndGlyphs" text-anchor="start">3850</text>
<text filter="url(#tb)" transform="translate(987.10,217.26) scale(0.1)" font-size="65.0" fill="#cdd0d7" stroke="#cdd0d7" stroke-width="1.7" stroke-linejoin="round" textLength="134.0" lengthAdjust="spacingAndGlyphs" text-anchor="start">3900</text>
<text filter="url(#tb)" transform="translate(987.10,197.42) scale(0.1)" font-size="65.0" fill="#cdd0d7" stroke="#cdd0d7" stroke-width="1.7" stroke-linejoin="round" textLength="134.0" lengthAdjust="spacingAndGlyphs" text-anchor="start">3950</text>
<text filter="url(#tb)" transform="translate(987.10,178.27) scale(0.1)" font-size="65.0" fill="#cdd0d7" stroke="#cdd0d7" stroke-width="1.7" stroke-linejoin="round" textLength="134.0" lengthAdjust="spacingAndGlyphs" text-anchor="start">4000</text>
<text filter="url(#tb)" transform="translate(987.10,158.43) scale(0.1)" font-size="65.0" fill="#cdd0d7" stroke="#cdd0d7" stroke-width="1.7" stroke-linejoin="round" textLength="134.0" lengthAdjust="spacingAndGlyphs" text-anchor="start">4050</text>
<text filter="url(#tb)" transform="translate(987.10,139.28) scale(0.1)" font-size="65.0" fill="#cdd0d7" stroke="#cdd0d7" stroke-width="1.7" stroke-linejoin="round" textLength="134.0" lengthAdjust="spacingAndGlyphs" text-anchor="start">4100</text>
<text filter="url(#tb)" transform="translate(987.10,119.44) scale(0.1)" font-size="65.0" fill="#cdd0d7" stroke="#cdd0d7" stroke-width="1.7" stroke-linejoin="round" textLength="134.0" lengthAdjust="spacingAndGlyphs" text-anchor="start">4150</text>
<text filter="url(#tb)" transform="translate(987.10,100.29) scale(0.1)" font-size="65.0" fill="#cdd0d7" stroke="#cdd0d7" stroke-width="1.7" stroke-linejoin="round" textLength="134.0" lengthAdjust="spacingAndGlyphs" text-anchor="start">4200</text>
<text filter="url(#tb)" transform="translate(987.10,80.44) scale(0.1)" font-size="65.0" fill="#cdd0d7" stroke="#cdd0d7" stroke-width="1.7" stroke-linejoin="round" textLength="134.0" lengthAdjust="spacingAndGlyphs" text-anchor="start">4250</text>
<text filter="url(#tb)" transform="translate(987.10,61.30) scale(0.1)" font-size="65.0" fill="#cdd0d7" stroke="#cdd0d7" stroke-width="1.7" stroke-linejoin="round" textLength="134.0" lengthAdjust="spacingAndGlyphs" text-anchor="start">4300</text>
<text filter="url(#tb)" transform="translate(987.10,41.45) scale(0.1)" font-size="65.0" fill="#cdd0d7" stroke="#cdd0d7" stroke-width="1.7" stroke-linejoin="round" textLength="134.0" lengthAdjust="spacingAndGlyphs" text-anchor="start">4350</text>
<text filter="url(#tb)" transform="translate(987.10,23.80) scale(0.1)" font-size="65.0" fill="#cdd0d7" stroke="#cdd0d7" stroke-width="1.7" stroke-linejoin="round" textLength="93.0" lengthAdjust="spacingAndGlyphs" text-anchor="start">IDR</text>
<text filter="url(#tb)" transform="translate(987.20,478.15) scale(0.1)" font-size="65.0" fill="#cdd0d7" stroke="#cdd0d7" stroke-width="1.7" stroke-linejoin="round" textLength="138.0" lengthAdjust="spacingAndGlyphs" text-anchor="start">400K</text>
<text filter="url(#tb)" transform="translate(987.20,496.15) scale(0.1)" font-size="65.0" fill="#cdd0d7" stroke="#cdd0d7" stroke-width="1.7" stroke-linejoin="round" textLength="138.0" lengthAdjust="spacingAndGlyphs" text-anchor="start">300K</text>
<text filter="url(#tb)" transform="translate(987.20,514.60) scale(0.1)" font-size="65.0" fill="#cdd0d7" stroke="#cdd0d7" stroke-width="1.7" stroke-linejoin="round" textLength="138.0" lengthAdjust="spacingAndGlyphs" text-anchor="start">200K</text>
<text filter="url(#tb)" transform="translate(987.20,532.60) scale(0.1)" font-size="65.0" fill="#cdd0d7" stroke="#cdd0d7" stroke-width="1.7" stroke-linejoin="round" textLength="138.0" lengthAdjust="spacingAndGlyphs" text-anchor="start">100K</text>
<text filter="url(#tb)" transform="translate(47.97,558.45) scale(0.1)" font-size="66.0" fill="#cdd0d7" stroke="#cdd0d7" stroke-width="1.7" stroke-linejoin="round" textLength="138.0" lengthAdjust="spacingAndGlyphs" text-anchor="start">2022</text>
<text filter="url(#tb)" transform="translate(127.47,558.45) scale(0.1)" font-size="66.0" fill="#cdd0d7" stroke="#cdd0d7" stroke-width="1.7" stroke-linejoin="round" textLength="62.0" lengthAdjust="spacingAndGlyphs" text-anchor="start">17</text>
<text filter="url(#tb)" transform="translate(208.64,558.45) scale(0.1)" font-size="66.0" fill="#cdd0d7" stroke="#cdd0d7" stroke-width="1.7" stroke-linejoin="round" textLength="104.0" lengthAdjust="spacingAndGlyphs" text-anchor="start">Feb</text>
<text filter="url(#tb)" transform="translate(271.30,558.45) scale(0.1)" font-size="66.0" fill="#cdd0d7" stroke="#cdd0d7" stroke-width="1.7" stroke-linejoin="round" textLength="62.0" lengthAdjust="spacingAndGlyphs" text-anchor="start">14</text>
<text filter="url(#tb)" transform="translate(344.80,558.45) scale(0.1)" font-size="66.0" fill="#cdd0d7" stroke="#cdd0d7" stroke-width="1.7" stroke-linejoin="round" textLength="106.0" lengthAdjust="spacingAndGlyphs" text-anchor="start">Mar</text>
<text filter="url(#tb)" transform="translate(407.56,558.45) scale(0.1)" font-size="66.0" fill="#cdd0d7" stroke="#cdd0d7" stroke-width="1.7" stroke-linejoin="round" textLength="62.0" lengthAdjust="spacingAndGlyphs" text-anchor="start">14</text>
<text filter="url(#tb)" transform="translate(452.78,558.45) scale(0.1)" font-size="66.0" fill="#cdd0d7" stroke="#cdd0d7" stroke-width="1.7" stroke-linejoin="round" textLength="66.0" lengthAdjust="spacingAndGlyphs" text-anchor="start">22</text>
<text filter="url(#tb)" transform="translate(511.64,558.45) scale(0.1)" font-size="66.0" fill="#cdd0d7" stroke="#cdd0d7" stroke-width="1.7" stroke-linejoin="round" textLength="100.0" lengthAdjust="spacingAndGlyphs" text-anchor="start">Apr</text>
<text filter="url(#tb)" transform="translate(559.26,558.45) scale(0.1)" font-size="66.0" fill="#cdd0d7" stroke="#cdd0d7" stroke-width="1.7" stroke-linejoin="round" textLength="56.0" lengthAdjust="spacingAndGlyphs" text-anchor="start">11</text>
<text filter="url(#tb)" transform="translate(604.18,558.45) scale(0.1)" font-size="66.0" fill="#cdd0d7" stroke="#cdd0d7" stroke-width="1.7" stroke-linejoin="round" textLength="66.0" lengthAdjust="spacingAndGlyphs" text-anchor="start">20</text>
<text filter="url(#tb)" transform="translate(654.67,558.45) scale(0.1)" font-size="66.0" fill="#cdd0d7" stroke="#cdd0d7" stroke-width="1.7" stroke-linejoin="round" textLength="116.0" lengthAdjust="spacingAndGlyphs" text-anchor="start">May</text>
<text filter="url(#tb)" transform="translate(725.30,558.45) scale(0.1)" font-size="66.0" fill="#cdd0d7" stroke="#cdd0d7" stroke-width="1.7" stroke-linejoin="round" textLength="66.0" lengthAdjust="spacingAndGlyphs" text-anchor="start">23</text>
<text filter="url(#tb)" transform="translate(769.12,558.45) scale(0.1)" font-size="66.0" fill="#cdd0d7" stroke="#cdd0d7" stroke-width="1.7" stroke-linejoin="round" textLength="98.0" lengthAdjust="spacingAndGlyphs" text-anchor="start">Jun</text>
<text filter="url(#tb)" transform="translate(823.91,558.45) scale(0.1)" font-size="66.0" fill="#cdd0d7" stroke="#cdd0d7" stroke-width="1.7" stroke-linejoin="round" textLength="62.0" lengthAdjust="spacingAndGlyphs" text-anchor="start">13</text>
<text filter="url(#tb)" transform="translate(869.33,558.45) scale(0.1)" font-size="66.0" fill="#cdd0d7" stroke="#cdd0d7" stroke-width="1.7" stroke-linejoin="round" textLength="62.0" lengthAdjust="spacingAndGlyphs" text-anchor="start">21</text>
<text filter="url(#tb)" transform="translate(928.99,558.45) scale(0.1)" font-size="66.0" fill="#cdd0d7" stroke="#cdd0d7" stroke-width="1.7" stroke-linejoin="round" textLength="80.0" lengthAdjust="spacingAndGlyphs" text-anchor="start">Jul</text>
<text filter="url(#tb)" transform="translate(974.50,558.45) scale(0.1)" font-size="66.0" fill="#cdd0d7" stroke="#cdd0d7" stroke-width="1.7" stroke-linejoin="round" textLength="63.0" lengthAdjust="spacingAndGlyphs" text-anchor="start">11</text>
<text filter="url(#tb)" transform="translate(5.40,10.30) scale(0.1)" font-size="65.0" fill="#dfe1e6" textLength="173.0" lengthAdjust="spacingAndGlyphs" font-weight="bold" text-anchor="start">JoniW</text>
<text filter="url(#tb)" transform="translate(24.10,10.30) scale(0.1)" font-size="65.0" fill="#dfe1e6" textLength="267.0" lengthAdjust="spacingAndGlyphs" font-weight="bold" text-anchor="start">published</text>
<text filter="url(#tb)" transform="translate(53.50,10.30) scale(0.1)" font-size="65.0" fill="#dfe1e6" textLength="63.0" lengthAdjust="spacingAndGlyphs" font-weight="bold" text-anchor="start">on</text>
<text filter="url(#tb)" transform="translate(62.50,10.30) scale(0.1)" font-size="65.0" fill="#dfe1e6" textLength="495.0" lengthAdjust="spacingAndGlyphs" font-weight="bold" text-anchor="start">TradingView.com,</text>
<text filter="url(#tb)" transform="translate(114.40,10.30) scale(0.1)" font-size="65.0" fill="#dfe1e6" textLength="186.0" lengthAdjust="spacingAndGlyphs" font-weight="bold" text-anchor="start">Jul 22,</text>
<text filter="url(#tb)" transform="translate(135.90,10.30) scale(0.1)" font-size="65.0" fill="#dfe1e6" textLength="122.0" lengthAdjust="spacingAndGlyphs" font-weight="bold" text-anchor="start">2022</text>
<text filter="url(#tb)" transform="translate(150.70,10.30) scale(0.1)" font-size="65.0" fill="#dfe1e6" textLength="150.0" lengthAdjust="spacingAndGlyphs" font-weight="bold" text-anchor="start">16:03</text>
<text filter="url(#tb)" transform="translate(167.90,10.30) scale(0.1)" font-size="65.0" fill="#dfe1e6" textLength="183.0" lengthAdjust="spacingAndGlyphs" font-weight="bold" text-anchor="start">UTC+7</text>
<text filter="url(#tb)" transform="translate(9.30,24.00) scale(0.1)" font-size="62.0" fill="#b5b8c1" stroke="#b5b8c1" stroke-width="2.0" stroke-linejoin="round" textLength="190.0" lengthAdjust="spacingAndGlyphs" text-anchor="start">MERCK</text>
<text filter="url(#tb)" transform="translate(31.00,24.00) scale(0.1)" font-size="62.0" fill="#b5b8c1" stroke="#b5b8c1" stroke-width="2.0" stroke-linejoin="round" textLength="120.0" lengthAdjust="spacingAndGlyphs" text-anchor="start">TBK,</text>
<text filter="url(#tb)" transform="translate(45.90,24.00) scale(0.1)" font-size="62.0" fill="#b5b8c1" stroke="#b5b8c1" stroke-width="2.0" stroke-linejoin="round" textLength="88.0" lengthAdjust="spacingAndGlyphs" text-anchor="start">1D,</text>
<text filter="url(#tb)" transform="translate(57.10,24.00) scale(0.1)" font-size="62.0" fill="#b5b8c1" stroke="#b5b8c1" stroke-width="2.0" stroke-linejoin="round" textLength="93.0" lengthAdjust="spacingAndGlyphs" text-anchor="start">IDX</text>
<text filter="url(#tb)" transform="translate(69.80,24.00) scale(0.1)" font-size="62.0" fill="#b5b8c1" stroke="#b5b8c1" stroke-width="2.0" stroke-linejoin="round" textLength="39.0" lengthAdjust="spacingAndGlyphs" text-anchor="start">O</text>
<text filter="url(#tb)" transform="translate(73.70,24.00) scale(0.1)" font-size="62.0" fill="#e4e6ea" stroke="#e4e6ea" stroke-width="3.6" stroke-linejoin="round" textLength="137.0" lengthAdjust="spacingAndGlyphs" text-anchor="start">4440</text>
<text filter="url(#tb)" transform="translate(91.00,24.00) scale(0.1)" font-size="62.0" fill="#b5b8c1" stroke="#b5b8c1" stroke-width="2.0" stroke-linejoin="round" textLength="34.0" lengthAdjust="spacingAndGlyphs" text-anchor="start">H</text>
<text filter="url(#tb)" transform="translate(94.40,24.00) scale(0.1)" font-size="62.0" fill="#e4e6ea" stroke="#e4e6ea" stroke-width="3.6" stroke-linejoin="round" textLength="142.0" lengthAdjust="spacingAndGlyphs" text-anchor="start">4600</text>
<text filter="url(#tb)" transform="translate(112.90,24.00) scale(0.1)" font-size="62.0" fill="#b5b8c1" stroke="#b5b8c1" stroke-width="2.0" stroke-linejoin="round" textLength="25.0" lengthAdjust="spacingAndGlyphs" text-anchor="start">L</text>
<text filter="url(#tb)" transform="translate(115.40,24.00) scale(0.1)" font-size="62.0" fill="#e4e6ea" stroke="#e4e6ea" stroke-width="3.6" stroke-linejoin="round" textLength="136.0" lengthAdjust="spacingAndGlyphs" text-anchor="start">4440</text>
<text filter="url(#tb)" transform="translate(133.00,24.00) scale(0.1)" font-size="62.0" fill="#b5b8c1" stroke="#b5b8c1" stroke-width="2.0" stroke-linejoin="round" textLength="39.0" lengthAdjust="spacingAndGlyphs" text-anchor="start">C</text>
<text filter="url(#tb)" transform="translate(136.90,24.00) scale(0.1)" font-size="62.0" fill="#e4e6ea" stroke="#e4e6ea" stroke-width="3.6" stroke-linejoin="round" textLength="129.0" lengthAdjust="spacingAndGlyphs" text-anchor="start">4560</text>
<g fill="#e4e6ec">
<path d="M5.1 570.1h4.6v4.8H7.3v-2.5H5.1z"/>
<circle cx="11.1" cy="571.2" r="1.05"/>
<path d="M12.9 570.1h2.5l-2.1 4.8h-2.5z"/>
</g>
<text filter="url(#tb)" transform="translate(17.40,575.00) scale(0.1)" font-size="67.0" fill="#eceef2" stroke="#eceef2" stroke-width="1.7" stroke-linejoin="round" textLength="373.0" lengthAdjust="spacingAndGlyphs" text-anchor="start">TradingView</text>
</svg>
</body></html>
